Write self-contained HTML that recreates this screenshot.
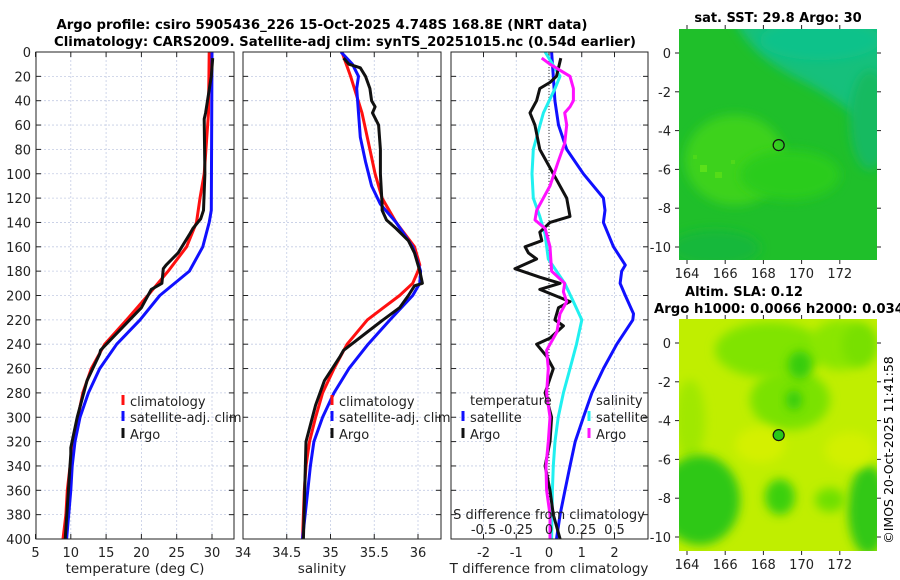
<!DOCTYPE html>
<html><head><meta charset="utf-8"><title>Argo profile</title>
<style>
html,body{margin:0;padding:0;background:#fff;}
svg{display:block;font-family:"DejaVu Sans","Liberation Sans",sans-serif;}
</style></head>
<body>
<svg id="fig" width="900" height="580" viewBox="0 0 900 580" xmlns="http://www.w3.org/2000/svg">
<defs>
<filter id="blur4" x="-50%" y="-50%" width="200%" height="200%"><feGaussianBlur stdDeviation="5"/></filter>
<clipPath id="clipMap1"><rect x="679" y="29" width="198" height="231"/></clipPath>
<clipPath id="clipMap2"><rect x="679" y="319" width="198" height="232"/></clipPath>
<clipPath id="clipP1"><rect x="36" y="52" width="198" height="487"/></clipPath>
<clipPath id="clipP2"><rect x="243" y="52" width="198" height="487"/></clipPath>
<clipPath id="clipP3"><rect x="451" y="52" width="197" height="487"/></clipPath>
</defs>
<text x="322" y="29" text-anchor="middle" font-size="13.5" font-weight="bold" textLength="531" lengthAdjust="spacingAndGlyphs">Argo profile: csiro 5905436_226 15-Oct-2025 4.748S 168.8E (NRT data)</text>
<text x="345" y="46" text-anchor="middle" font-size="13.5" font-weight="bold" textLength="582" lengthAdjust="spacingAndGlyphs">Climatology: CARS2009. Satellite-adj clim: synTS_20251015.nc (0.54d earlier)</text>

<g clip-path="url(#clipMap1)">
  <rect x="679" y="29" width="198" height="231" fill="#1fbf2a"/>
  <path d="M735,20 L890,20 L890,140 C860,120 840,100 800,80 C770,65 745,45 735,20 Z" fill="#12c07c" filter="url(#blur4)"/>
  <ellipse cx="820" cy="40" rx="60" ry="20" fill="#10c28a" filter="url(#blur4)"/>
  <ellipse cx="870" cy="120" rx="20" ry="50" fill="#16ba60" filter="url(#blur4)"/>
  <ellipse cx="735" cy="160" rx="50" ry="45" fill="#3ed21a" filter="url(#blur4)"/>
  <ellipse cx="790" cy="175" rx="50" ry="25" fill="#2ccc1a" filter="url(#blur4)"/>
  <ellipse cx="715" cy="248" rx="45" ry="18" fill="#18b83a" filter="url(#blur4)"/>
  <rect x="700" y="165" width="7" height="7" fill="#5be01a"/>
  <rect x="715" y="172" width="7" height="6" fill="#55dc18"/>
  <rect x="693" y="155" width="4" height="4" fill="#4cd81a"/>
  <rect x="731" y="160" width="4" height="4" fill="#50d81a"/>
</g>
<g clip-path="url(#clipMap2)">
  <rect x="679" y="319" width="198" height="232" fill="#c0ee00"/>
  <ellipse cx="770" cy="350" rx="55" ry="28" fill="#80e400" filter="url(#blur4)"/>
  <ellipse cx="790" cy="400" rx="40" ry="30" fill="#7ae200" filter="url(#blur4)"/>
  <ellipse cx="840" cy="345" rx="30" ry="25" fill="#8ae600" filter="url(#blur4)"/>
  <ellipse cx="800" cy="365" rx="12" ry="14" fill="#34cc10" filter="url(#blur4)"/>
  <ellipse cx="794" cy="400" rx="8" ry="10" fill="#34cc10" filter="url(#blur4)"/>
  <ellipse cx="690" cy="420" rx="15" ry="40" fill="#a0e800" filter="url(#blur4)"/>
  <ellipse cx="700" cy="500" rx="40" ry="45" fill="#2ec818" filter="url(#blur4)"/>
  <ellipse cx="780" cy="497" rx="15" ry="18" fill="#3ad010" filter="url(#blur4)"/>
  <ellipse cx="868" cy="510" rx="20" ry="45" fill="#30c818" filter="url(#blur4)"/>
  <ellipse cx="830" cy="500" rx="15" ry="12" fill="#70e000" filter="url(#blur4)"/>
  <ellipse cx="860" cy="345" rx="18" ry="22" fill="#78e000" filter="url(#blur4)"/>
  <ellipse cx="760" cy="445" rx="25" ry="18" fill="#d4f000" filter="url(#blur4)"/>
  <ellipse cx="850" cy="450" rx="25" ry="18" fill="#d2f000" filter="url(#blur4)"/>
</g>
<g id="dyn"></g>
<text x="778" y="22" text-anchor="middle" font-size="13" font-weight="bold">sat. SST: 29.8 Argo: 30</text>
<text x="744" y="296" text-anchor="middle" font-size="13" font-weight="bold">Altim. SLA: 0.12</text>
<text x="654" y="313" font-size="13" font-weight="bold" textLength="250" lengthAdjust="spacingAndGlyphs">Argo h1000: 0.0066 h2000: 0.034</text>
<text transform="translate(893,450) rotate(-90)" text-anchor="middle" font-size="12.5">©IMOS 20-Oct-2025 11:41:58</text>
</svg>
<script>
const depthTicks = [0,20,40,60,80,100,120,140,160,180,200,220,240,260,280,300,320,340,360,380,400];
const tempTicks = [5,10,15,20,25,30];
const salTicks = [34,34.5,35,35.5,36];
const tdiffTicks = [-2,-1,0,1,2];
const sdiffTicks = [-0.5,-0.25,0,0.25,0.5];
const sdiffTickLabels = ["-0.5","-0.25","0","0.25","0.5"];
const lonTicks = [164,166,168,170,172];
const latTicks = [0,-2,-4,-6,-8,-10];

const climTDepth = [0,50,100,120,140,160,180,200,220,240,260,280,300,320,340,360,380,400];
const climTemp   = [29.6,29.5,28.9,28.3,27.8,26.4,23.8,20.9,17.9,14.8,12.9,11.7,11.0,10.4,9.9,9.5,9.3,8.9];
const satTDepth  = [0,130,140,160,180,200,220,240,260,280,300,320,340,360,400];
const satTemp    = [30.0,29.9,29.6,28.7,26.8,22.6,19.8,16.5,14.1,12.5,11.3,10.6,10.2,10.0,9.4];
const argoTDepth = [5,20,50,55,100,130,137,145,150,165,175,178,190,195,210,230,245,248,270,300,325,330,400];
const argoTemp   = [30.1,29.9,29.1,28.9,29.0,28.8,28.4,27.3,26.8,25.2,23.5,23.1,22.9,21.4,20.0,16.7,14.2,14.1,12.3,10.9,10.0,10.0,9.2];

const climSDepth = [0,20,50,80,100,120,140,160,175,180,190,200,220,240,260,280,300,320,340,360,400];
const climSal    = [35.13,35.23,35.36,35.45,35.51,35.59,35.75,35.96,36.02,36.0,35.94,35.79,35.42,35.19,35.04,34.91,34.83,34.76,34.72,34.70,34.68];
const satSDepth  = [0,10,20,30,50,70,90,110,125,140,160,180,190,200,220,240,260,280,300,320,340,360,400];
const satSal     = [35.12,35.25,35.32,35.30,35.32,35.34,35.40,35.47,35.57,35.75,35.94,36.03,36.02,35.94,35.68,35.43,35.21,35.04,34.91,34.81,34.77,34.74,34.68];
const argoSDepth = [5,10,13,20,30,40,45,50,60,80,100,125,130,138,145,155,165,180,190,192,200,210,220,230,245,250,270,290,320,400];
const argoSal    = [35.15,35.21,35.34,35.40,35.45,35.47,35.51,35.48,35.55,35.57,35.57,35.59,35.59,35.64,35.75,35.89,35.96,36.02,36.05,35.96,35.89,35.79,35.60,35.42,35.15,35.11,34.93,34.83,34.72,34.69];

const satTdDepth = [0,20,40,60,80,100,120,130,140,160,175,180,190,200,215,220,240,260,280,300,320,340,360,380,400];
const satTdiff   = [0.08,0.13,0.18,0.29,0.54,1.05,1.66,1.71,1.66,1.97,2.33,2.22,2.17,2.33,2.58,2.56,2.07,1.66,1.31,1.05,0.80,0.64,0.49,0.34,0.23];
const argoTdDepth = [5,20,25,30,40,50,60,80,100,120,135,140,148,155,160,165,170,178,185,190,195,200,205,210,220,225,235,240,250,260,280,300,320,340,360,380,400];
const argoTdiff   = [0.36,0.23,0.03,-0.28,-0.38,-0.58,-0.43,-0.28,0.13,0.54,0.64,0.03,-0.28,-0.22,-0.73,-0.63,-0.38,-1.04,-0.28,0.34,-0.28,0.18,0.64,0.29,0.18,0.44,0.03,-0.38,-0.07,0.13,-0.12,0.08,0.03,-0.12,0.03,0.13,0.34];
const satSdDepth = [0,20,30,50,80,100,120,135,150,170,190,205,220,240,260,280,300,320,340,360,400];
const satSdiff   = [-0.03,0.084,0.046,-0.043,-0.12,-0.13,-0.12,-0.07,-0.03,-0.005,0.12,0.186,0.25,0.21,0.16,0.11,0.07,0.046,0.033,0.026,0.02];
const argoSdDepth = [5,10,20,30,40,45,50,60,75,90,110,130,138,145,160,180,190,197,205,215,230,245,260,280,300,320,340,360,380,400];
const argoSdiff   = [-0.056,0.008,0.16,0.186,0.186,0.16,0.12,0.135,0.12,0.07,0.008,-0.094,-0.107,-0.03,0.008,0.02,0.12,0.11,0.135,0.084,0.06,-0.018,-0.005,-0.018,0.008,-0.005,-0.023,-0.018,0.008,0.008];

const argoLon = 168.8, argoLat = -4.748;

const yD = d => 52 + d*(539-52)/400;
const xT = t => 35.5 + (t-5)*7.06;
const xS = s => 243 + (s-34)*87.5;
const xTd = t => 549 + t*32.75;
const xSd = s => 549 + s*131;
const lonX = l => 687 + (l-164)*19.1;
const lat1Y = l => 53 - l*19.4;
const lat2Y = l => 343 - l*19.4;

const NS = "http://www.w3.org/2000/svg";
const root = document.getElementById('dyn');
function mk(tag, attrs, parent){ const e=document.createElementNS(NS,tag); for(const k in attrs) e.setAttribute(k,attrs[k]); (parent||root).appendChild(e); return e; }

function panel(name, x0, x1, xFn, ticks, labels, showY){
  const g = mk('g',{});
  
  
  ticks.forEach(v=>{ const x=xFn(v); if(x>x0+1&&x<x1-1){ const l=mk('line',{x1:x,x2:x,y1:52,y2:539,stroke:'#c4cce4','stroke-width':0.8,'stroke-dasharray':'2,2'},g);
    
     } });
  depthTicks.forEach(d=>{ const y=yD(d); if(d>0&&d<400){ const l=mk('line',{x1:x0,x2:x1,y1:y,y2:y,stroke:'#c4cce4','stroke-width':0.8,'stroke-dasharray':'2,2'},g);
    
     }
    mk('line',{x1:x0,x2:x0+5,y1:y,y2:y,stroke:'#222'},g); mk('line',{x1:x1-5,x2:x1,y1:y,y2:y,stroke:'#222'},g);
    if(showY){ const t=mk('text',{x:x0-5,y:y+5,'text-anchor':'end','font-size':13,fill:'#222'},g); t.textContent=d;
      
       } });
  ticks.forEach((v,i)=>{ const x=xFn(v);
    if(x>=x0-1&&x<=x1+1){ mk('line',{x1:x,x2:x,y1:539,y2:534,stroke:'#222'},g); mk('line',{x1:x,x2:x,y1:52,y2:57,stroke:'#222'},g); }
    if(labels){ const t=mk('text',{x:x,y:557,'text-anchor':'middle','font-size':13,fill:'#222'},g); t.textContent=labels[i];
      
       } });
  return g;
}
function frame(x0,x1,name){ const r=mk('rect',{x:x0,y:52,width:x1-x0,height:487,fill:'none',stroke:'#222','stroke-width':1});
  
   }
function series(xs, ds, xFn, color, name, w){ const pts=xs.map((v,i)=>xFn(v).toFixed(1)+','+yD(ds[i]).toFixed(1)).join(' ');
  const p=mk('polyline',{points:pts,fill:'none',stroke:color,'stroke-width':w||3,'stroke-linejoin':'round'});
  
  
  return p; }
function label(txt,x,y,name,anchor,size){ const t=mk('text',{x:x,y:y,'text-anchor':anchor||'start','font-size':size||13,fill:'#222'}); t.textContent=txt;
  
   return t; }
function legendItem(x,y,color,txt,name){ const g=mk('g',{});
  
  
  mk('line',{x1:x,x2:x,y1:y-11,y2:y-1,stroke:color,'stroke-width':3},g);
  const t=mk('text',{x:x+7,y:y,'font-size':13,fill:'#222'},g); t.textContent=txt; }

panel('temperature-panel',36,234,xT,tempTicks,tempTicks.map(String),true);
let c1=mk('g',{'clip-path':'url(#clipP1)'});
c1.appendChild(series(climTemp,climTDepth,xT,'#ff1010','temp-climatology-line'));
c1.appendChild(series(satTemp,satTDepth,xT,'#1010ff','temp-satellite-line'));
c1.appendChild(series(argoTemp,argoTDepth,xT,'#111','temp-argo-line'));
frame(36,234,'temperature-axes-frame');
label('temperature (deg C)',135,573,'temperature-axis-title','middle',13.5);
legendItem(123,406,'#ff1010','climatology','legend-temp-climatology');
legendItem(123,422,'#1010ff','satellite-adj. clim','legend-temp-satellite');
legendItem(123,439,'#111','Argo','legend-temp-argo');

panel('salinity-panel',243,441,xS,salTicks,salTicks.map(String),false);
let c2=mk('g',{'clip-path':'url(#clipP2)'});
c2.appendChild(series(climSal,climSDepth,xS,'#ff1010','sal-climatology-line'));
c2.appendChild(series(satSal,satSDepth,xS,'#1010ff','sal-satellite-line'));
c2.appendChild(series(argoSal,argoSDepth,xS,'#111','sal-argo-line'));
frame(243,441,'salinity-axes-frame');
label('salinity',322,573,'salinity-axis-title','middle',13.5);
legendItem(332,406,'#ff1010','climatology','legend-sal-climatology');
legendItem(332,422,'#1010ff','satellite-adj. clim','legend-sal-satellite');
legendItem(332,439,'#111','Argo','legend-sal-argo');

panel('difference-panel',451,648,xTd,tdiffTicks,tdiffTicks.map(String),false);
const z=mk('line',{x1:xTd(0),x2:xTd(0),y1:52,y2:539,stroke:'#333','stroke-width':1,'stroke-dasharray':'1,2'});


let c3=mk('g',{'clip-path':'url(#clipP3)'});
c3.appendChild(series(satTdiff,satTdDepth,xTd,'#1010ff','tdiff-satellite-line'));
c3.appendChild(series(satSdiff,satSdDepth,xSd,'#20f0f0','sdiff-satellite-line'));
c3.appendChild(series(argoTdiff,argoTdDepth,xTd,'#111','tdiff-argo-line'));
c3.appendChild(series(argoSdiff,argoSdDepth,xSd,'#ff10ff','sdiff-argo-line'));
frame(451,648,'difference-axes-frame');
label('T difference from climatology',549,573,'tdiff-axis-title','middle',13.5);
label('S difference from climatology',549,519,'sdiff-axis-title','middle',13);
sdiffTicks.forEach((v,i)=>{ label(sdiffTickLabels[i],xSd(v),534,'sdiff-tick-label','middle',13); });
label('temperature',470,405,'legend-temperature-heading');
legendItem(463,422,'#1010ff','satellite','legend-tdiff-satellite');
legendItem(463,439,'#111','Argo','legend-tdiff-argo');
label('salinity',596,405,'legend-salinity-heading');
legendItem(589,422,'#20f0f0','satellite','legend-sdiff-satellite');
legendItem(589,439,'#ff10ff','Argo','legend-sdiff-argo');

function mapAxes(y0,y1,latY,name){
  const g=mk('g',{});
  
  
  lonTicks.forEach(l=>{ const x=lonX(l); mk('line',{x1:x,x2:x,y1:y1,y2:y1+4,stroke:'#222'},g); mk('line',{x1:x,x2:x,y1:y0,y2:y0-4,stroke:'#222'},g);
    const t=mk('text',{x:x,y:y1+18,'text-anchor':'middle','font-size':13,fill:'#222'},g); t.textContent=l;
    
     });
  latTicks.forEach(l=>{ const y=latY(l); mk('line',{x1:675,x2:679,y1:y,y2:y,stroke:'#222'},g); mk('line',{x1:877,x2:881,y1:y,y2:y,stroke:'#222'},g);
    const t=mk('text',{x:671,y:y+5,'text-anchor':'end','font-size':13,fill:'#222'},g); t.textContent=l;
    
     });
  return g;
}
mapAxes(29,260,lat1Y,'sst-map-axes');
mapAxes(319,551,lat2Y,'sla-map-axes');
const m1=mk('circle',{cx:lonX(argoLon),cy:lat1Y(argoLat),r:5.5,fill:'none',stroke:'#111','stroke-width':1.2});


const m2=mk('circle',{cx:lonX(argoLon),cy:lat2Y(argoLat),r:5.5,fill:'#28c818',stroke:'#111','stroke-width':1.2});


</script>
</body></html>
